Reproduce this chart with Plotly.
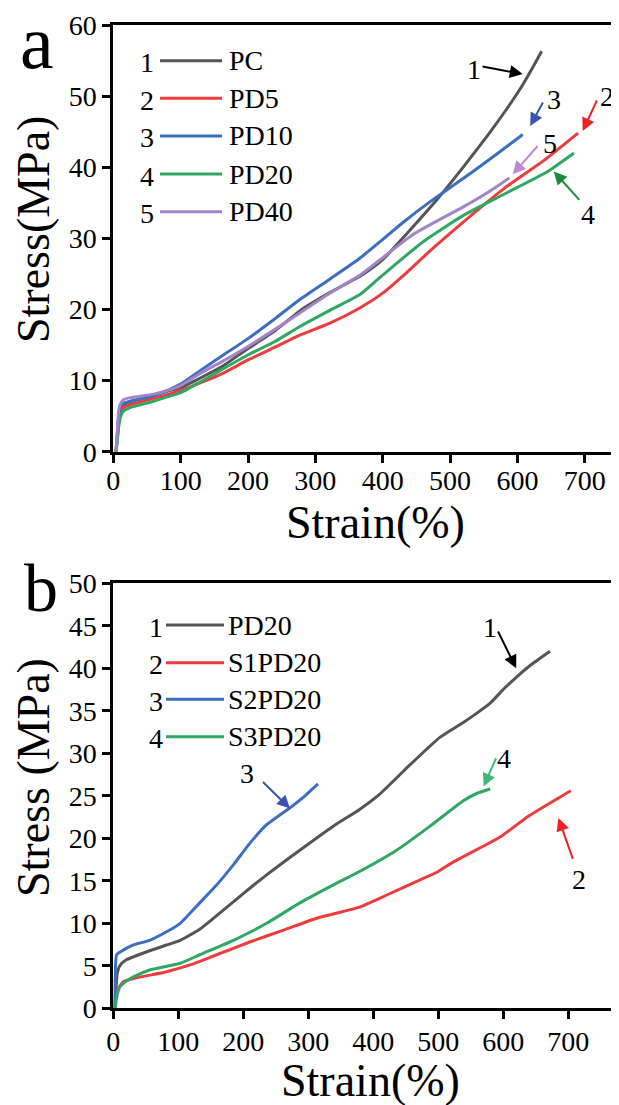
import plotly.graph_objects as go

# page is rendered with the default 8px body margin, so the figure is shifted by OFF px
OFF = 8
W, H = 619 - OFF, 1105 - OFF
FONT = "Liberation Serif"

# ---------------- Panel a data ----------------
a_labels = ["PC", "PD5", "PD10", "PD20", "PD40"]
a_colors = ["#555555", "#EE3B3B", "#3D6FC0", "#2EA862", "#A583C9"]

pc_strain = [4, 6, 8, 11, 15, 25, 40, 60, 80, 100, 130, 160, 200, 240, 277, 320, 370, 400, 437, 481, 521, 560, 590, 608, 625, 636]
pc_stress = [0, 2.0, 4.5, 6.0, 6.6, 7.0, 7.4, 7.9, 8.5, 9.0, 10.4, 11.9, 14.5, 17.0, 19.8, 22.3, 24.9, 27.0, 30.8, 35.5, 40.2, 45.0, 49.0, 51.6, 54.4, 56.3]

pd5_strain = [4, 6, 8, 11, 15, 25, 40, 60, 80, 100, 130, 160, 200, 240, 277, 320, 366, 400, 431, 471, 531, 580, 640, 690]
pd5_stress = [0, 2.0, 4.5, 5.6, 6.2, 6.6, 7.0, 7.5, 8.0, 8.6, 9.7, 10.9, 12.9, 14.7, 16.4, 18.0, 20.2, 22.3, 24.8, 28.3, 33.2, 37.0, 41.0, 44.8]

pd10_strain = [4, 6, 8, 11, 15, 25, 40, 60, 80, 100, 129, 160, 200, 240, 277, 322, 366, 397, 431, 471, 531, 570, 608]
pd10_stress = [0, 2.5, 5.0, 6.3, 6.8, 7.1, 7.4, 7.9, 8.6, 9.5, 11.4, 13.4, 15.9, 18.7, 21.4, 24.3, 27.2, 29.6, 32.3, 35.2, 39.2, 41.9, 44.6]

pd20_strain = [4, 6, 8, 11, 15, 25, 40, 60, 80, 100, 129, 160, 200, 240, 277, 320, 366, 397, 461, 521, 580, 645, 684]
pd20_stress = [0, 1.5, 3.5, 5.0, 5.7, 6.2, 6.6, 7.1, 7.7, 8.3, 9.8, 11.5, 13.6, 15.5, 17.6, 19.8, 22.1, 24.6, 29.6, 33.3, 36.2, 39.4, 42.0]

pd40_strain = [4, 6, 8, 11, 15, 25, 40, 60, 80, 100, 129, 160, 200, 240, 277, 320, 366, 446, 521, 560, 588]
pd40_stress = [0, 3.0, 5.8, 6.8, 7.3, 7.6, 7.8, 8.1, 8.6, 9.3, 11.0, 12.6, 14.8, 17.2, 19.5, 22.2, 24.8, 30.6, 34.5, 36.7, 38.5]

a_series = [(pc_strain, pc_stress), (pd5_strain, pd5_stress), (pd10_strain, pd10_stress),
            (pd20_strain, pd20_stress), (pd40_strain, pd40_stress)]

# ---------------- Panel b data ----------------
b_labels = ["PD20", "S1PD20", "S2PD20", "S3PD20"]
b_colors = ["#555555", "#EE3B3B", "#3D6FC0", "#2EA862"]

pd20b_strain = [3, 4, 6, 10, 20, 46, 82, 103, 133, 159, 200, 236, 287, 338, 379, 410, 456, 503, 538, 559, 580, 600, 621, 641, 672]
pd20b_stress = [0, 2.0, 4.1, 5.0, 5.7, 6.5, 7.45, 8.0, 9.3, 10.9, 13.5, 15.7, 18.6, 21.4, 23.4, 25.2, 28.6, 31.9, 33.6, 34.7, 35.9, 37.5, 39.0, 40.3, 42.0]

s1_strain = [2, 4, 7, 15, 31, 82, 118, 159, 210, 262, 313, 379, 420, 472, 500, 523, 580, 600, 641, 704]
s1_stress = [0, 1.4, 2.2, 3.1, 3.5, 4.3, 5.1, 6.3, 7.8, 9.2, 10.6, 11.9, 13.3, 15.1, 16.1, 17.2, 19.5, 20.4, 22.7, 25.6]

s2_strain = [2, 3, 5, 10, 31, 56, 82, 103, 133, 159, 185, 210, 236, 272, 295, 315]
s2_stress = [0, 4.0, 6.3, 6.6, 7.45, 8.0, 9.0, 10.0, 12.4, 14.5, 16.9, 19.4, 21.6, 23.6, 25.0, 26.4]

s3_strain = [3, 5, 10, 20, 31, 56, 103, 133, 185, 236, 287, 338, 379, 436, 487, 538, 560, 580]
s3_stress = [0, 1.2, 2.5, 3.2, 3.7, 4.5, 5.3, 6.3, 8.0, 10.0, 12.4, 14.5, 16.1, 18.6, 21.4, 24.4, 25.3, 25.8]

b_series = [(pd20b_strain, pd20b_stress), (s1_strain, s1_stress), (s2_strain, s2_stress), (s3_strain, s3_stress)]

# axis tick settings
a_xticks = [0, 100, 200, 300, 400, 500, 600, 700]
a_yticks = [0, 10, 20, 30, 40, 50, 60]
b_xticks = [0, 100, 200, 300, 400, 500, 600, 700]
b_yticks = [0, 5, 10, 15, 20, 25, 30, 35, 40, 45, 50]

fig = go.Figure()
for (xs, ys), c, n in zip(a_series, a_colors, a_labels):
    fig.add_trace(go.Scatter(x=xs, y=ys, mode="lines", name=n, xaxis="x", yaxis="y",
                             line=dict(color=c, width=3, shape="spline", smoothing=0.5), showlegend=False))
for (xs, ys), c, n in zip(b_series, b_colors, b_labels):
    fig.add_trace(go.Scatter(x=xs, y=ys, mode="lines", name=n, xaxis="x2", yaxis="y2",
                             line=dict(color=c, width=3, shape="spline", smoothing=0.5), showlegend=False))


def px(v):
    """reference-page x pixel -> paper fraction"""
    return (v - OFF) / W


def py(v):
    """reference-page y pixel -> paper fraction"""
    return 1 - (v - OFF) / H


xdom = [px(113.3), px(611.7)]
axis_common = dict(showline=True, linewidth=3, linecolor="black", mirror=True,
                   ticks="outside", ticklen=8, tickwidth=3, tickcolor="black",
                   showgrid=False, zeroline=False, automargin=False,
                   tickfont=dict(family=FONT, size=28, color="black"))

fig.update_layout(
    width=W, height=H, autosize=False,
    font=dict(family=FONT, color="black"),
    margin=dict(l=0, r=0, t=0, b=0, pad=0, autoexpand=False),
    paper_bgcolor="white", plot_bgcolor="white",
    showlegend=False,
    xaxis=dict(domain=xdom, range=[0, 740], tickvals=a_xticks, anchor="y", ticklabelstandoff=-6, **axis_common),
    yaxis=dict(domain=[py(451.7), py(25)], range=[0, 60], tickvals=a_yticks, anchor="x", **axis_common),
    xaxis2=dict(domain=xdom, range=[0, 767], tickvals=b_xticks, anchor="y2", ticklabelstandoff=-2, **axis_common),
    yaxis2=dict(domain=[py(1008.3), py(583.3)], range=[0, 50], tickvals=b_yticks, anchor="x2", **axis_common),
)

ann = []
shapes = []


def ptext(text, x, y, size, angle=0, xanchor="center"):
    return dict(text=text, x=px(x), y=py(y), xref="paper", yref="paper", showarrow=False,
                xanchor=xanchor, yanchor="middle", textangle=angle,
                font=dict(family=FONT, size=size, color="black"))


# panel letters and axis titles
ann.append(ptext("a", 37, 42, 76))
ann.append(ptext("b", 41, 588, 68))
ann.append(ptext("Stress(MPa)", 33, 230, 46, angle=-90))
ann.append(ptext("Stress (MPa)", 33, 778, 46, angle=-90))
ann.append(ptext("Strain(%)", 375, 523, 46))
ann.append(ptext("Strain(%)", 370, 1080, 46))

# legends (drawn manually: number - line - label)
a_rows = [60.7, 98.3, 136.0, 174.0, 211.7]
for i, (n, c, r) in enumerate(zip(a_labels, a_colors, a_rows)):
    shapes.append(dict(type="line", xref="paper", yref="paper", x0=px(160), x1=px(222), y0=py(r), y1=py(r),
                       line=dict(color=c, width=3)))
    ann.append(ptext(str(i + 1), 147, r + 2, 28))
    ann.append(ptext(n, 227, r, 28, xanchor="left"))

b_rows = [625, 662.7, 699.3, 736.7]
for i, (n, c, r) in enumerate(zip(b_labels, b_colors, b_rows)):
    shapes.append(dict(type="line", xref="paper", yref="paper", x0=px(166), x1=px(224), y0=py(r), y1=py(r),
                       line=dict(color=c, width=3)))
    ann.append(ptext(str(i + 1), 156, r + 2, 28))
    ann.append(ptext(n, 226, r, 28, xanchor="left"))

# curve callouts: (label, text_x, text_y, tail_x, tail_y, head_x, head_y, colour)
a_callouts = [
    ("1", 535, 53.8, 546, 54.2, 608, 53.1, "black"),
    ("3", 654, 49.5, 639, 49.3, 619, 45.8, "#3A55B0"),
    ("2", 733, 50.0, 719, 49.6, 697, 45.1, "#EE2222"),
    ("5", 648, 43.4, 632, 43.2, 593, 39.0, "#C08AD0"),
    ("4", 705, 33.3, 694, 35.2, 654, 39.4, "#1E8A3C"),
]
b_callouts = [
    ("1", 580, 44.8, 591, 44.5, 620, 40.0, "black"),
    ("4", 601, 29.4, 590, 29.6, 570, 26.1, "#3DB878"),
    ("2", 716, 15.1, 708, 17.4, 685, 22.4, "#EE2222"),
    ("3", 205, 27.6, 228, 26.8, 272, 23.5, "#3A55B0"),
]
for (xr, yr, calls) in [("x", "y", a_callouts), ("x2", "y2", b_callouts)]:
    for lab, tx, ty, ax, ay, hx, hy, col in calls:
        ann.append(dict(text=lab, x=tx, y=ty, xref=xr, yref=yr, showarrow=False,
                        xanchor="center", yanchor="middle",
                        font=dict(family=FONT, size=28, color="black")))
        ann.append(dict(text="", x=hx, y=hy, xref=xr, yref=yr, ax=ax, ay=ay, axref=xr, ayref=yr,
                        showarrow=True, arrowhead=2, arrowsize=1.3, arrowwidth=2, arrowcolor=col,
                        standoff=0, startstandoff=0))

fig.update_layout(annotations=ann, shapes=shapes)
fig.write_html("out.html")
